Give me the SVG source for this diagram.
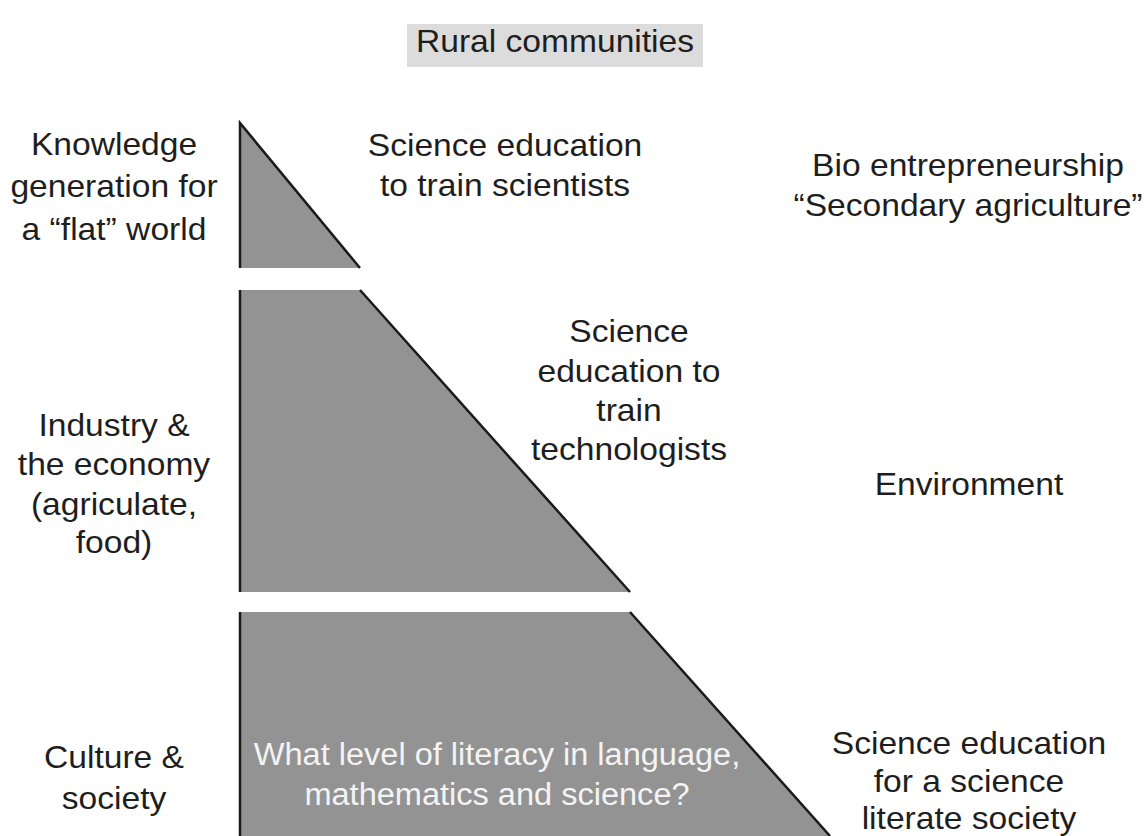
<svg xmlns="http://www.w3.org/2000/svg" width="1145" height="836" viewBox="0 0 1145 836">
<style>
  .band { fill: #939393; stroke: none; }
  .edge { fill: none; stroke: #1a1a1a; stroke-width: 2.5; stroke-linejoin: miter; }
  .t { font-family: "Liberation Sans", Arial, sans-serif; font-size: 32px; fill: #1e1e1e; text-anchor: middle; }
  .w { font-family: "Liberation Sans", Arial, sans-serif; font-size: 31px; fill: #f4f4f4; text-anchor: middle; }
</style>
<rect width="1145" height="836" fill="#ffffff"/>

<g id="rural-communities">
  <rect x="407" y="24" width="296" height="43" fill="#dcdcdc"/>
  <text class="t" transform="translate(555 0) scale(1.05 1)" x="0" y="52">Rural communities</text>
</g>

<g id="band-top">
  <polygon class="band" points="240,123 360,268 240,268"/>
  <polyline class="edge" points="240,268 240,123 360,268"/>
  <text class="t" transform="translate(505 0) scale(1.05 1)"><tspan x="0" y="156">Science education</tspan><tspan x="0" y="196">to train scientists</tspan></text>
</g>

<g id="band-middle">
  <polygon class="band" points="240,290 360,290 630,592 240,592"/>
  <polyline class="edge" points="240,290 240,592"/>
  <line class="edge" x1="360" y1="290" x2="630" y2="592"/>
  <text class="t" transform="translate(629 0) scale(1.05 1)"><tspan x="0" y="342">Science</tspan><tspan x="0" y="382">education to</tspan><tspan x="0" y="421">train</tspan><tspan x="0" y="460">technologists</tspan></text>
</g>

<g id="band-bottom">
  <polygon class="band" points="240,612 630,612 830,836 240,836"/>
  <polyline class="edge" points="240,612 240,836"/>
  <line class="edge" x1="630" y1="612" x2="830" y2="836"/>
  <text class="w" transform="translate(497 0) scale(1.05 1)"><tspan x="0" y="765">What level of literacy in language,</tspan><tspan x="0" y="805">mathematics and science?</tspan></text>
</g>

<g id="label-knowledge">
  <text class="t" transform="translate(114 0) scale(1.05 1)"><tspan x="0" y="155">Knowledge</tspan><tspan x="0" y="197">generation for</tspan><tspan x="0" y="240">a “flat” world</tspan></text>
</g>

<g id="label-industry">
  <text class="t" transform="translate(114 0) scale(1.05 1)"><tspan x="0" y="436">Industry &amp;</tspan><tspan x="0" y="475">the economy</tspan><tspan x="0" y="515">(agriculate,</tspan><tspan x="0" y="553">food)</tspan></text>
</g>

<g id="label-culture">
  <text class="t" transform="translate(114 0) scale(1.05 1)"><tspan x="0" y="768">Culture &amp;</tspan><tspan x="0" y="809">society</tspan></text>
</g>

<g id="label-bio">
  <text class="t" transform="translate(968 0) scale(1.05 1)"><tspan x="0" y="176">Bio entrepreneurship</tspan><tspan x="0" y="216">“Secondary agriculture”</tspan></text>
</g>

<g id="label-environment">
  <text class="t" transform="translate(969 0) scale(1.05 1)" x="0" y="495">Environment</text>
</g>

<g id="label-literate">
  <text class="t" transform="translate(969 0) scale(1.05 1)"><tspan x="0" y="754">Science education</tspan><tspan x="0" y="792">for a science</tspan><tspan x="0" y="829">literate society</tspan></text>
</g>

<g id="connectors"></g>
</svg>
